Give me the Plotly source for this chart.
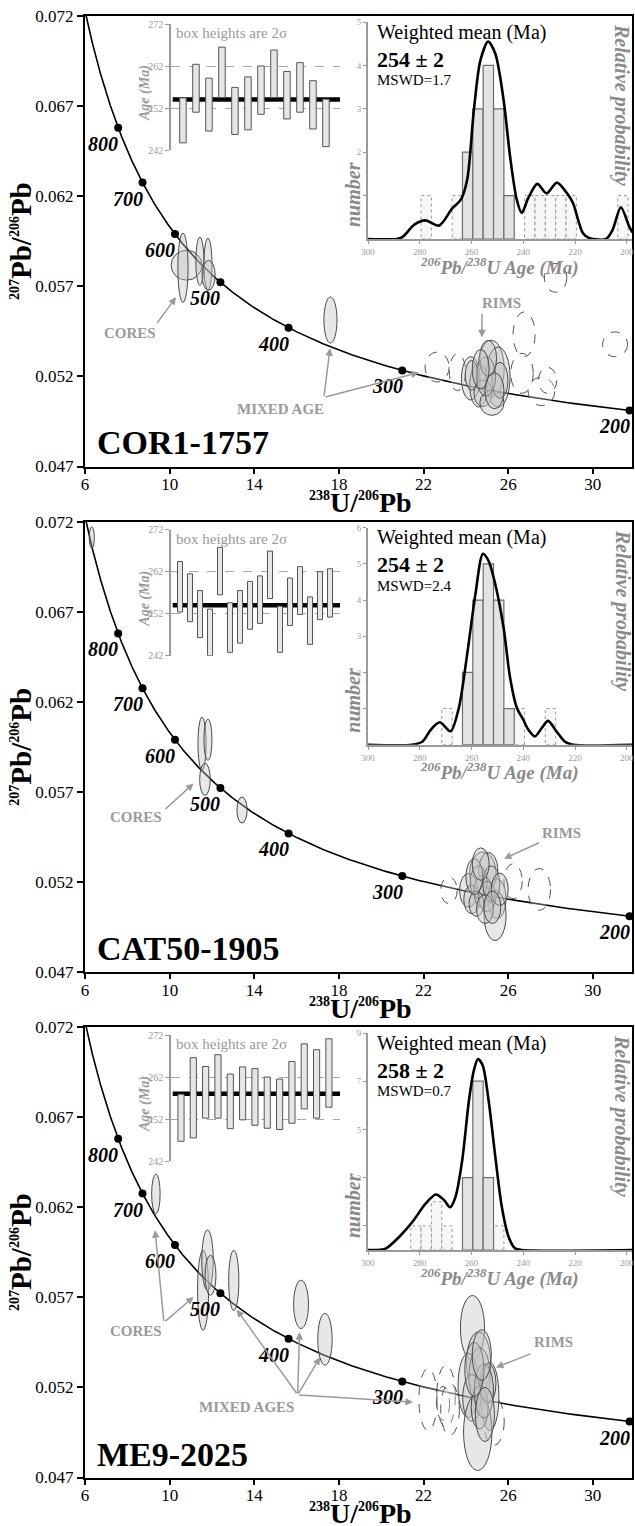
import numpy as np
import plotly.graph_objects as go

W, H = 635, 1526
FONT = "Liberation Serif"
GRAY = "#9a9a9a"
DGRAY = "#8a8a8a"

# ---------------- data ----------------
samples = ["COR1-1757", "CAT50-1905", "ME9-2025"]
wm_ages = [254, 254, 258]
wm_errs = [2, 2, 2]
mswds = [1.7, 2.4, 0.7]

concordia_ages = [200, 300, 400, 500, 600, 700, 800]
x_ticks = [6, 10, 14, 18, 22, 26, 30]
y_ticks = [0.047, 0.052, 0.057, 0.062, 0.067, 0.072]
box_ticks = [242, 252, 262, 272]
hist_x_ticks = [300, 280, 260, 240, 220, 200]
hist_y_ticks = [[1, 2, 3, 4, 5], [1, 2, 3, 4, 5, 6], [1, 3, 5, 7, 9]]
hist_y_max = [5, 6, 9]

# individual spot ages (box heights are 2 sigma): low / high, Ma
box_low_1 = [243.7, 251.0, 246.5, 254.5, 245.7, 246.8, 250.5, 254.5, 249.4, 251.0, 247.0, 242.8]
box_high_1 = [254.4, 262.4, 259.1, 266.5, 256.9, 259.4, 262.0, 265.8, 260.7, 262.8, 258.5, 254.1]
box_low_2 = [252.4, 250.1, 246.3, 242.0, 256.5, 242.8, 245.0, 248.3, 249.7, 255.6, 242.8, 249.2, 251.8, 244.7, 250.6, 251.2]
box_high_2 = [264.4, 261.5, 257.5, 253.1, 267.8, 254.6, 257.5, 259.7, 261.0, 266.9, 253.8, 260.5, 263.2, 256.0, 262.0, 262.7]
box_low_3 = [246.7, 247.5, 252.2, 252.2, 249.7, 251.8, 250.5, 249.8, 249.5, 251.0, 254.4, 252.2, 254.8]
box_high_3 = [257.9, 266.6, 264.5, 267.3, 262.7, 264.4, 264.0, 262.0, 261.5, 265.7, 269.9, 268.5, 271.1]

# histogram (bin width 4 Ma): bin centres and counts
hist_w = 4
hist_solid_c_1 = [261.5, 257.5, 253.5, 249.5, 245.5]
hist_solid_n_1 = [2, 3, 4, 3, 1]
hist_dash_c_1 = [277.5, 265.5, 237.5, 233.5, 229.5, 225.5, 221.5, 201.5]
hist_dash_n_1 = [1, 1, 1, 1, 1, 1, 1, 1]
hist_solid_c_2 = [261.5, 257.5, 253.5, 249.5, 245.5]
hist_solid_n_2 = [2, 4, 5, 4, 1]
hist_dash_c_2 = [269.5, 241.5, 229.5]
hist_dash_n_2 = [1, 1, 1]
hist_solid_c_3 = [261.5, 257.5, 253.5]
hist_solid_n_3 = [3, 7, 3]
hist_dash_c_3 = [281.5, 277.5, 273.5, 269.5, 249.5]
hist_dash_n_3 = [1, 1, 2, 1, 1]

# relative probability curves (in count units)
pdf_age_1 = [300, 289, 286.6, 282.1, 277.9, 272.5, 267.4, 264.2, 261.7, 259.1, 256.6, 253.6, 250.8,
             247.6, 245.1, 242.5, 240.6, 238.1, 234.6, 231.0, 227.0, 222.7, 220.8, 217.0, 214.4,
             208, 205.5, 202.3, 199.1, 197.8]
pdf_val_1 = [0, 0, 0.05, 0.33, 0.43, 0.31, 0.71, 0.9, 1.36, 2.97, 4.11, 4.55, 4.27, 3.2, 1.9, 0.9,
             0.6, 0.94, 1.27, 1.05, 1.3, 1.02, 0.83, 0.14, 0.02, 0, 0.21, 0.73, 0.29, 0.15]
pdf_age_2 = [300, 283, 278.9, 275.7, 272.3, 268.1, 264.9, 261.7, 258.5, 255.6, 253.4, 250.8, 247.6,
             245.1, 242.5, 240.0, 238.1, 235.5, 232.9, 230.4, 227.2, 224, 220.8, 198]
pdf_val_2 = [0, 0, 0.09, 0.42, 0.62, 0.37, 1.02, 2.49, 4.16, 5.28, 5.08, 4.43, 3.23, 1.85, 1.02,
             0.69, 0.42, 0.23, 0.46, 0.66, 0.37, 0.09, 0, 0]
pdf_age_3 = [300, 296.8, 293, 287.9, 282.8, 277.7, 273.8, 270.6, 268.3, 266.2, 263.6, 261, 259.1,
             257.5, 255.7, 253.4, 250.8, 248.3, 245.7, 243.2, 240.6, 198]
pdf_val_3 = [0, 0, 0.07, 0.55, 1.17, 1.93, 2.3, 2.07, 1.77, 2.2, 3.72, 6.2, 7.45, 7.92, 7.66, 6.2,
             3.86, 1.79, 0.55, 0.07, 0, 0]

# analyses on the Tera-Wasserburg diagram: centre x, centre y, half-width, half-height
ell_solid_x_1 = [10.80, 10.63, 11.43, 11.81, 11.84, 17.60, 25.19, 24.23, 24.61, 25.52, 24.81, 25.23,
                 24.27, 25.61, 24.95, 25.05, 24.70, 25.35]
ell_solid_y_1 = [0.05817, 0.05803, 0.05839, 0.05822, 0.05761, 0.05513, 0.05244, 0.05189, 0.05150,
                 0.05196, 0.05106, 0.05053, 0.05206, 0.05178, 0.05200, 0.05300, 0.05240, 0.05120]
ell_solid_a_1 = [0.73, 0.24, 0.19, 0.19, 0.31, 0.31, 0.62, 0.44, 0.43, 0.57, 0.43, 0.57, 0.30, 0.38,
                 0.45, 0.40, 0.40, 0.45]
ell_solid_b_1 = [0.00083, 0.00192, 0.00133, 0.00144, 0.00083, 0.00128, 0.00157, 0.00120, 0.00120,
                 0.00167, 0.00074, 0.00069, 0.00083, 0.00100, 0.00110, 0.00100, 0.00110, 0.00100]
ell_dash_x_1 = [22.64, 23.60, 26.75, 26.65, 27.57, 27.86, 28.24, 31.05]
ell_dash_y_1 = [0.05252, 0.05224, 0.05433, 0.05217, 0.05117, 0.05178, 0.05747, 0.05378]
ell_dash_a_1 = [0.57, 0.38, 0.52, 0.53, 0.63, 0.43, 0.53, 0.59]
ell_dash_b_1 = [0.00083, 0.00103, 0.00125, 0.00111, 0.00079, 0.00073, 0.00080, 0.00069]

ell_solid_x_2 = [6.32, 11.53, 11.81, 11.67, 13.42, 24.80, 25.06, 24.13, 24.28, 24.80, 25.47, 25.38,
                 24.60, 25.00, 24.50, 25.20, 24.40, 25.60, 24.90, 24.70, 25.25]
ell_solid_y_2 = [0.07112, 0.05968, 0.05990, 0.05770, 0.05600, 0.05251, 0.05265, 0.05154, 0.05104,
                 0.05148, 0.05108, 0.05015, 0.05200, 0.05120, 0.05080, 0.05190, 0.05230, 0.05160,
                 0.05050, 0.05300, 0.05060]
ell_solid_a_2 = [0.12, 0.19, 0.19, 0.25, 0.24, 0.62, 0.45, 0.43, 0.38, 0.43, 0.43, 0.52, 0.40, 0.40,
                 0.35, 0.40, 0.40, 0.40, 0.40, 0.40, 0.40]
ell_solid_b_2 = [0.00060, 0.00147, 0.00114, 0.00089, 0.00072, 0.00116, 0.00100, 0.00094, 0.00079,
                 0.00090, 0.00111, 0.00139, 0.00090, 0.00085, 0.00070, 0.00100, 0.00100, 0.00090,
                 0.00080, 0.00090, 0.00090]
ell_dash_x_2 = [23.20, 26.23, 27.47]
ell_dash_y_2 = [0.05154, 0.05205, 0.05159]
ell_dash_a_2 = [0.39, 0.43, 0.53]
ell_dash_b_2 = [0.00074, 0.00097, 0.00116]

ell_solid_x_3 = [9.35, 11.58, 11.79, 11.93, 13.03, 16.21, 17.34, 24.31, 24.60, 24.11, 24.65, 25.13,
                 24.28, 24.56, 24.65, 25.04, 24.85, 24.40, 24.90, 24.75]
ell_solid_y_3 = [0.06274, 0.05739, 0.05906, 0.05822, 0.05794, 0.05661, 0.05467, 0.05530, 0.05336,
                 0.05211, 0.05261, 0.05150, 0.05142, 0.04952, 0.05090, 0.05222, 0.05180, 0.05300,
                 0.05050, 0.05380]
ell_solid_a_3 = [0.20, 0.26, 0.27, 0.26, 0.24, 0.35, 0.34, 0.57, 0.57, 0.48, 0.50, 0.43, 0.43, 0.67,
                 0.40, 0.38, 0.45, 0.45, 0.45, 0.45]
ell_solid_b_3 = [0.00110, 0.00222, 0.00167, 0.00111, 0.00167, 0.00134, 0.00144, 0.00180, 0.00172,
                 0.00178, 0.00160, 0.00189, 0.00130, 0.00213, 0.00120, 0.00111, 0.00150, 0.00150,
                 0.00150, 0.00140]
ell_dash_x_3 = [22.21, 23.06, 22.92, 23.25, 25.33]
ell_dash_y_3 = [0.05133, 0.05151, 0.05111, 0.05078, 0.05012]
ell_dash_a_3 = [0.43, 0.44, 0.31, 0.44, 0.48]
ell_dash_b_3 = [0.00172, 0.00172, 0.00094, 0.00144, 0.00134]

# labels with arrows: (text, label x, label y, [(tail x, tail y, head x, head y), ...])
labels_1 = [("CORES", 8.13, 0.05439, [(9.36, 0.05489, 10.30, 0.05639)]),
            ("RIMS", 25.66, 0.05606, [(24.76, 0.05556, 24.76, 0.05417)]),
            ("MIXED AGE", 15.26, 0.05017, [(17.29, 0.05083, 17.58, 0.05356),
                                            (17.29, 0.05083, 21.78, 0.05222)])]
labels_2 = [("CORES", 8.39, 0.05559, [(9.73, 0.05598, 11.13, 0.05747)]),
            ("RIMS", 28.54, 0.05470, [(27.53, 0.05422, 25.80, 0.05330)])]
labels_3 = [("CORES", 8.39, 0.05511, [(9.73, 0.05561, 11.13, 0.05702),
                                      (9.73, 0.05561, 9.31, 0.06072)]),
            ("RIMS", 28.12, 0.05450, [(27.12, 0.05389, 25.42, 0.05311)]),
            ("MIXED AGES", 13.63, 0.05094, [(16.05, 0.05159, 13.17, 0.05632),
                                             (16.05, 0.05159, 16.14, 0.05507),
                                             (16.05, 0.05159, 17.11, 0.05368),
                                             (16.05, 0.05159, 21.50, 0.05118)])]

# ---------------- helpers ----------------
L238, L235, U_RATIO = 1.55125e-10, 9.8485e-10, 137.88


def concordia(t_ma):
    t = np.asarray(t_ma, dtype=float) * 1e6
    e8 = np.expm1(L238 * t)
    e5 = np.expm1(L235 * t)
    return 1.0 / e8, e5 / e8 / U_RATIO


def xd(p0, p1):
    return [p0 / W, p1 / W]


def yd(top, bot):
    return [1 - bot / H, 1 - top / H]


def axid(n, a):
    return a if n == 1 else f"{a}{n}"


def axkey(n, a):
    return f"{a}axis" if n == 1 else f"{a}axis{n}"


def ptext(x, y, text, size, color="black", xanchor="center", angle=0):
    return dict(x=x / W, y=1 - y / H, xref="paper", yref="paper", text=text,
                showarrow=False, xanchor=xanchor, yanchor="middle", textangle=angle,
                font=dict(family=FONT, size=size, color=color))


def sup(s, px):
    return f"<sup><span style='font-size:{px}px'>{s}</span></sup>"


tops = [16, 521.7, 1027]
MAIN_H = 450.5

box_low = [box_low_1, box_low_2, box_low_3]
box_high = [box_high_1, box_high_2, box_high_3]
box_xrange = [[0.08, 13.08], [0.1, 17.0], [0.19, 13.9]]
hist_sc = [hist_solid_c_1, hist_solid_c_2, hist_solid_c_3]
hist_sn = [hist_solid_n_1, hist_solid_n_2, hist_solid_n_3]
hist_dc = [hist_dash_c_1, hist_dash_c_2, hist_dash_c_3]
hist_dn = [hist_dash_n_1, hist_dash_n_2, hist_dash_n_3]
pdf_age = [pdf_age_1, pdf_age_2, pdf_age_3]
pdf_val = [pdf_val_1, pdf_val_2, pdf_val_3]
ells = [
    (ell_solid_x_1, ell_solid_y_1, ell_solid_a_1, ell_solid_b_1, ell_dash_x_1, ell_dash_y_1, ell_dash_a_1, ell_dash_b_1),
    (ell_solid_x_2, ell_solid_y_2, ell_solid_a_2, ell_solid_b_2, ell_dash_x_2, ell_dash_y_2, ell_dash_a_2, ell_dash_b_2),
    (ell_solid_x_3, ell_solid_y_3, ell_solid_a_3, ell_solid_b_3, ell_dash_x_3, ell_dash_y_3, ell_dash_a_3, ell_dash_b_3),
]
labels = [labels_1, labels_2, labels_3]

X_TITLE = "<b>" + sup("238", 14) + "U/" + sup("206", 14) + "Pb</b>"
Y_TITLE = "<b>" + sup("207", 14) + "Pb/" + sup("206", 14) + "Pb</b>"
H_TITLE = "<b><i>" + sup("206", 13) + "Pb/" + sup("238", 13) + "U Age (Ma)</i></b>"

fig = go.Figure()
layout = {}
shapes = []
annos = []

curve_t = np.linspace(199, 1000, 500)
cx, cy = concordia(curve_t)
dot_x, dot_y = concordia(concordia_ages)

for i in range(3):
    T = tops[i]
    nm, nb, nh = 3 * i + 1, 3 * i + 2, 3 * i + 3
    xm, ym = axid(nm, "x"), axid(nm, "y")
    xb, yb = axid(nb, "x"), axid(nb, "y")
    xh, yh = axid(nh, "x"), axid(nh, "y")

    # ---- main axes ----
    layout[axkey(nm, "x")] = dict(
        domain=xd(85, 632), range=[6, 31.85], anchor=ym, tickvals=x_ticks,
        ticks="outside", ticklen=5, tickwidth=2, tickcolor="black", ticklabelstandoff=-4,
        showline=True, linewidth=2, linecolor="black", mirror=True,
        showgrid=False, zeroline=False, automargin=False,
        tickfont=dict(family=FONT, size=17, color="black"))
    layout[axkey(nm, "y")] = dict(
        domain=yd(T, T + MAIN_H), range=[0.047, 0.072], anchor=xm, tickvals=y_ticks,
        tickformat=".3f", ticks="outside", ticklen=6, tickwidth=2, tickcolor="black",
        showline=True, linewidth=2, linecolor="black", mirror=True,
        showgrid=False, zeroline=False, automargin=False,
        tickfont=dict(family=FONT, size=17, color="black"))

    # ---- box inset axes ----
    layout[axkey(nb, "x")] = dict(
        domain=xd(171, 340), range=box_xrange[i], anchor=yb, visible=False,
        showgrid=False, zeroline=False, automargin=False)
    layout[axkey(nb, "y")] = dict(
        domain=yd(T + 8, T + 134), range=[242, 272], anchor=xb, tickvals=box_ticks,
        ticks="outside", ticklen=4, tickcolor=GRAY, showline=True, linewidth=1.5,
        linecolor=GRAY, showgrid=True, gridcolor="#a8a8a8", griddash="dash", gridwidth=1,
        zeroline=False, automargin=False,
        tickfont=dict(family=FONT, size=10, color=GRAY))

    # ---- histogram inset axes ----
    layout[axkey(nh, "x")] = dict(
        domain=xd(368, 632), range=[300, 198], anchor=yh, tickvals=hist_x_ticks,
        ticks="outside", ticklen=3, tickcolor=GRAY, showline=True, linewidth=2,
        linecolor=GRAY, showgrid=False, zeroline=False, automargin=False,
        tickfont=dict(family=FONT, size=9, color=GRAY))
    layout[axkey(nh, "y")] = dict(
        domain=yd(T + 6, T + 223), range=[0, hist_y_max[i]], anchor=xh,
        tickvals=hist_y_ticks[i], ticks="outside", ticklen=3, tickcolor=GRAY,
        showline=True, linewidth=2, linecolor=GRAY, showgrid=False, zeroline=False,
        automargin=False, tickfont=dict(family=FONT, size=9, color=GRAY))

    # ---- concordia ----
    fig.add_trace(go.Scatter(x=cx, y=cy, mode="lines", xaxis=xm, yaxis=ym,
                             line=dict(color="black", width=1.6), hoverinfo="skip",
                             showlegend=False))
    fig.add_trace(go.Scatter(x=dot_x, y=dot_y, mode="markers", xaxis=xm, yaxis=ym,
                             marker=dict(color="black", size=8), showlegend=False,
                             cliponaxis=False))
    for a, xx, yy in zip(concordia_ages, dot_x, dot_y):
        annos.append(dict(x=xx, y=yy, xref=xm, yref=ym, text=f"<b><i>{a}</i></b>",
                          showarrow=False, xshift=-15, yshift=-16,
                          xanchor="center", yanchor="middle",
                          font=dict(family=FONT, size=20, color="black")))

    # ---- ellipses ----
    sx, sy, sa, sb, dx_, dy_, da, db = ells[i]
    for x0, y0, a, b in zip(dx_, dy_, da, db):
        shapes.append(dict(type="circle", xref=xm, yref=ym, x0=x0 - a, x1=x0 + a,
                           y0=y0 - b, y1=y0 + b, line=dict(color="#555555", width=1, dash="dash"),
                           fillcolor="rgba(250,250,250,0.3)", layer="above"))
    for x0, y0, a, b in zip(sx, sy, sa, sb):
        shapes.append(dict(type="circle", xref=xm, yref=ym, x0=x0 - a, x1=x0 + a,
                           y0=y0 - b, y1=y0 + b, line=dict(color="#4a4a4a", width=1),
                           fillcolor="rgba(195,195,195,0.40)", layer="above"))

    # ---- annotations with arrows ----
    for text, lx, ly, arrows in labels[i]:
        annos.append(dict(x=lx, y=ly, xref=xm, yref=ym, text=f"<b>{text}</b>",
                          showarrow=False, xanchor="center", yanchor="middle",
                          font=dict(family=FONT, size=15, color=GRAY)))
        for tx, ty, hx, hy in arrows:
            annos.append(dict(x=hx, y=hy, ax=tx, ay=ty, xref=xm, yref=ym, axref=xm, ayref=ym,
                              text="", showarrow=True, arrowhead=2, arrowsize=1,
                              arrowwidth=1.5, arrowcolor=GRAY, standoff=0))

    annos.append(ptext(95, T + 427, f"<b>{samples[i]}</b>", 34, xanchor="left"))
    annos.append(ptext(21, T + 225, Y_TITLE, 29, angle=-90))
    annos.append(ptext(360, T + MAIN_H + 36, X_TITLE, 28))

    # ---- box inset ----
    n = len(box_low[i])
    fig.add_trace(go.Bar(x=list(range(1, n + 1)), base=box_low[i],
                         y=[h - l for h, l in zip(box_high[i], box_low[i])],
                         width=0.5, xaxis=xb, yaxis=yb,
                         marker=dict(color="#e6e6e6", line=dict(color="#555555", width=1)),
                         showlegend=False))
    shapes.append(dict(type="line", xref=f"{xb} domain", yref=yb, x0=0.01, x1=1,
                       y0=wm_ages[i], y1=wm_ages[i], line=dict(color="black", width=4.5),
                       layer="below"))
    annos.append(ptext(174, T + 17, "box heights are 2σ", 15, GRAY, xanchor="left"))
    annos.append(ptext(145, T + 77, "<b><i>Age (Ma)</i></b>", 14, GRAY, angle=-90))

    # ---- histogram inset ----
    fig.add_trace(go.Bar(x=hist_sc[i], y=hist_sn[i], width=hist_w, xaxis=xh, yaxis=yh,
                         marker=dict(color="#e3e3e3", line=dict(color="#6e6e6e", width=1.2)),
                         showlegend=False))
    for c, k in zip(hist_dc[i], hist_dn[i]):
        shapes.append(dict(type="rect", xref=xh, yref=yh, x0=c - hist_w / 2, x1=c + hist_w / 2,
                           y0=0, y1=k, line=dict(color="#9a9a9a", width=1, dash="dot"),
                           fillcolor="rgba(242,242,242,0.6)", layer="below"))
    fig.add_trace(go.Scatter(x=pdf_age[i], y=pdf_val[i], mode="lines", xaxis=xh, yaxis=yh,
                             line=dict(color="black", width=2.6, shape="spline", smoothing=0.8),
                             showlegend=False, hoverinfo="skip"))

    annos.append(ptext(375, T + 16, "Weighted mean (Ma)", 20, xanchor="left"))
    annos.append(ptext(375, T + 43, f"<b>{wm_ages[i]} ± {wm_errs[i]}</b>", 22, xanchor="left"))
    annos.append(ptext(375, T + 64, f"MSWD={mswds[i]}", 15, xanchor="left"))
    annos.append(ptext(622, T + 89, "<b><i>Relative probability</i></b>", 20, DGRAY, angle=90))
    annos.append(ptext(353, T + 179, "<b><i>number</i></b>", 20, DGRAY, angle=-90))
    annos.append(ptext(499, T + 250, H_TITLE, 19, DGRAY))

fig.update_layout(
    template="none",
    width=W, height=H,
    margin=dict(l=0, r=0, t=0, b=0, pad=0),
    paper_bgcolor="white", plot_bgcolor="rgba(0,0,0,0)",
    showlegend=False, barmode="overlay",
    font=dict(family=FONT),
    shapes=shapes, annotations=annos,
    **layout)

fig.write_html(
    "out.html",
    config={"displayModeBar": False},
    post_script="document.documentElement.style.margin='0';document.body.style.margin='0';"
                "document.body.style.padding='0';document.body.style.overflow='hidden';")
